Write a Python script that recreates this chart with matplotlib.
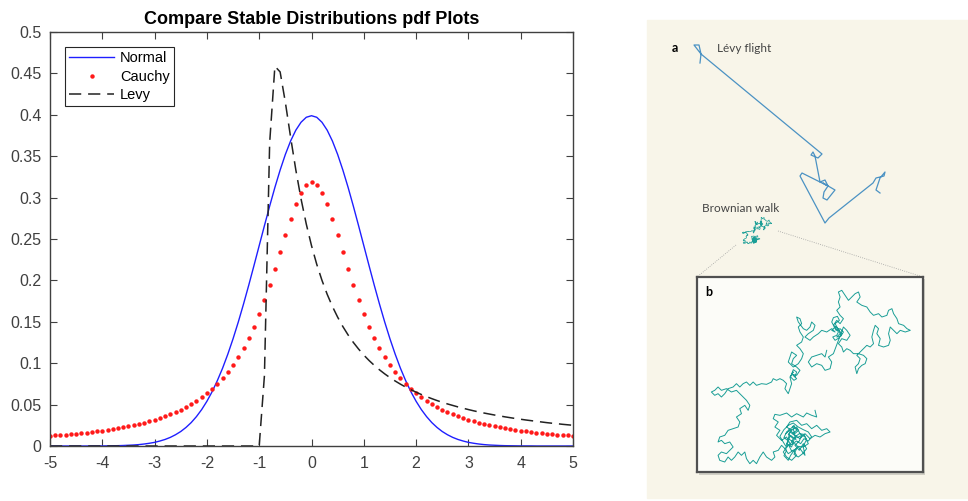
import numpy as np
import matplotlib.pyplot as plt
from matplotlib.patches import Rectangle

plt.rcParams['axes.unicode_minus'] = False

x_vals = np.linspace(-5, 5, 101)

# right half (x = 0 .. 5), curves are symmetric about 0
normal_half = [0.3989, 0.3970, 0.3910, 0.3814, 0.3683, 0.3521, 0.3332, 0.3123, 0.2897, 0.2661,
               0.2420, 0.2179, 0.1942, 0.1714, 0.1497, 0.1295, 0.1109, 0.0940, 0.0790, 0.0656,
               0.0540, 0.0440, 0.0355, 0.0283, 0.0224, 0.0175, 0.0136, 0.0104, 0.0079, 0.0060,
               0.0044, 0.0033, 0.0024, 0.0017, 0.0012, 0.0009, 0.0006, 0.0004, 0.0003, 0.0002,
               0.0001, 0.0001, 0.0001, 0.0, 0.0, 0.0, 0.0, 0.0, 0.0, 0.0, 0.0]
cauchy_half = [0.3183, 0.3152, 0.3061, 0.2920, 0.2744, 0.2546, 0.2341, 0.2136, 0.1941, 0.1759,
               0.1592, 0.1440, 0.1305, 0.1183, 0.1075, 0.0979, 0.0894, 0.0818, 0.0751, 0.0690,
               0.0637, 0.0588, 0.0545, 0.0506, 0.0471, 0.0439, 0.0410, 0.0384, 0.0360, 0.0338,
               0.0318, 0.0300, 0.0283, 0.0268, 0.0253, 0.0240, 0.0228, 0.0217, 0.0206, 0.0196,
               0.0187, 0.0179, 0.0171, 0.0163, 0.0156, 0.0150, 0.0144, 0.0138, 0.0132, 0.0127,
               0.0122]
# levy is zero up to x = -1, these are x = -0.9 .. 5
levy_tail = [0.0850, 0.3661, 0.4586, 0.4518, 0.4151, 0.3731, 0.3335, 0.2984, 0.2681, 0.2420,
             0.2195, 0.2001, 0.1832, 0.1685, 0.1556, 0.1442, 0.1341, 0.1251, 0.1171, 0.1098,
             0.1033, 0.0974, 0.0920, 0.0871, 0.0826, 0.0785, 0.0747, 0.0712, 0.0680, 0.0650,
             0.0622, 0.0596, 0.0572, 0.0549, 0.0528, 0.0508, 0.0490, 0.0472, 0.0456, 0.0440,
             0.0425, 0.0411, 0.0398, 0.0386, 0.0374, 0.0363, 0.0352, 0.0342, 0.0332, 0.0323,
             0.0314, 0.0306, 0.0298, 0.0290, 0.0282, 0.0275, 0.0269, 0.0262, 0.0256, 0.0250]

normal_vals = normal_half[::-1] + normal_half[1:]
cauchy_vals = cauchy_half[::-1] + cauchy_half[1:]
levy_vals = [0.0] * 41 + levy_tail

# ---- right illustration: traced paths
# levy flight, image pixel coords
levy_x = [700, 701, 694, 699, 701, 822, 818, 811, 813, 815, 820, 825, 828, 823, 835, 827,
          823, 824, 828, 822, 802, 800, 825, 829, 873, 876, 884, 885, 880, 876, 880]
levy_y = [63, 54, 45, 45, 54, 154, 158, 155, 152, 156, 182, 180, 186, 183, 190, 200,
          198, 192, 186, 183, 173, 176, 223, 218, 183, 178, 176, 172, 178, 190, 193]

# brownian walk, traced in inset units (x 172..848, y 140..725)
brownian_path = [
    (525, 540), (530, 560), (515, 555), (500, 548), (490, 560), (470, 550), (455, 560), (440, 548),
    (420, 555), (405, 552), (400, 565), (415, 575), (405, 590), (420, 600), (410, 615), (425, 630),
    (440, 620), (450, 640), (435, 655), (445, 670), (460, 660), (470, 675), (455, 690), (440, 680),
    (430, 665), (445, 645), (465, 640), (480, 655), (495, 675), (490, 650), (505, 640), (495, 620),
    (480, 610), (470, 590), (455, 600), (440, 590), (450, 575), (470, 570), (485, 585), (500, 580),
    (515, 595), (530, 585), (545, 600), (560, 595), (570, 605), (555, 610), (540, 620), (525, 615),
    (510, 625), (495, 610), (480, 625), (465, 615), (450, 605), (445, 625), (460, 635), (455, 650),
    (440, 640), (452, 615), (468, 628), (458, 588), (476, 600), (462, 612), (448, 596), (438, 610),
    (462, 585), (470, 600), (458, 610), (472, 622), (485, 615), (478, 632), (465, 645), (478, 660),
    (490, 640), (500, 655), (488, 670), (475, 680), (462, 672), (470, 655), (455, 662), (448, 648),
    (460, 625), (445, 612), (455, 598), (440, 605), (432, 622), (446, 632), (438, 648), (428, 632),
    (420, 618), (432, 598), (445, 585), (460, 578), (475, 590), (490, 598), (505, 605), (515, 620),
    (505, 632), (492, 625), (482, 640), (470, 632), (458, 640), (465, 620), (478, 610), (492, 612),
    (500, 628), (488, 650), (475, 648), (463, 660), (452, 675), (445, 690), (432, 676), (440, 660),
    (425, 645), (415, 660), (400, 665), (405, 680), (395, 690), (380, 680), (370, 665), (360, 680),
    (350, 700), (340, 690), (330, 700), (320, 685), (315, 665), (305, 675), (295, 665), (285, 680),
    (275, 690), (265, 680), (255, 695), (240, 690), (235, 675), (245, 665), (260, 670), (270, 660),
    (280, 650), (270, 635), (255, 640), (245, 630), (235, 635), (240, 620), (255, 615), (265, 600),
    (280, 595), (295, 590), (300, 575), (290, 560), (305, 550), (300, 535), (315, 525), (325, 540),
    (330, 525), (320, 510), (310, 500), (300, 490), (290, 480), (275, 485), (260, 475), (245, 480),
    (235, 470), (225, 480), (215, 485), (225, 495), (235, 490), (245, 500), (255, 490), (265, 475),
    (280, 470), (290, 460), (300, 470), (310, 460), (320, 455), (330, 465), (340, 455), (350, 465),
    (365, 460), (380, 462), (395, 455), (400, 445), (410, 450), (420, 445), (430, 450), (440, 460),
    (435, 475), (445, 490), (450, 475), (455, 460), (450, 440), (460, 425), (455, 430), (465, 440),
    (470, 425), (460, 418), (452, 440), (462, 450), (470, 445), (458, 432), (470, 435), (480, 420),
    (470, 410), (455, 400), (460, 385), (470, 375), (455, 365), (450, 380), (445, 395), (460, 410),
    (475, 400), (485, 385), (490, 370), (480, 355), (470, 345), (485, 335), (490, 320), (480, 305),
    (475, 290), (485, 280), (480, 265), (470, 260), (475, 275), (490, 295), (500, 300), (510, 290),
    (515, 275), (525, 285), (520, 300), (505, 310), (495, 320), (510, 330), (520, 320), (535, 310),
    (545, 300), (560, 305), (575, 295), (585, 305), (575, 300), (585, 290), (595, 305), (590, 315),
    (578, 320), (585, 330), (598, 322), (605, 310), (595, 298), (585, 280), (598, 270), (592, 258),
    (580, 262), (575, 275), (588, 300), (600, 295), (610, 305), (602, 318), (590, 320), (600, 310),
    (595, 295), (580, 285), (590, 270), (600, 280), (610, 265), (600, 255), (590, 240), (600, 230),
    (595, 215), (600, 200), (595, 185), (605, 180), (615, 195), (625, 210), (635, 200), (645, 190),
    (655, 185), (660, 200), (650, 215), (665, 225), (680, 230), (690, 245), (700, 255), (715, 250),
    (725, 260), (740, 255), (745, 240), (755, 235), (760, 250), (770, 265), (775, 280), (790, 285),
    (800, 295), (810, 300), (795, 305), (780, 300), (770, 310), (760, 300), (750, 290), (745, 310),
    (750, 330), (745, 345), (730, 350), (715, 345), (720, 325), (710, 310), (715, 295), (705, 285),
    (700, 300), (695, 320), (700, 340), (690, 350), (680, 345), (670, 355), (660, 365), (650, 375),
    (660, 385), (655, 400), (645, 410), (650, 430), (655, 415), (665, 405), (675, 400), (680, 385),
    (670, 375), (655, 370), (640, 370), (630, 360), (620, 355), (610, 365), (605, 350), (595, 340),
    (605, 325), (620, 330), (630, 315), (620, 300), (610, 290), (580, 370), (565, 380), (575, 395),
    (570, 415), (555, 420), (545, 405), (530, 400), (515, 410), (505, 395), (515, 380), (530, 375),
    (545, 370), (555, 380), (560, 360),
]
bw = np.array(brownian_path, dtype=float)

fig = plt.figure(figsize=(9.68, 5.01), dpi=100)

# ---------------- left: stable distributions
W, H = 968, 501
ax = fig.add_axes([50 / W, (H - 446) / H, 523 / W, 414 / H])
ax.plot(x_vals, normal_vals, color='#1f1fff', lw=1.0, label='Normal')
ax.plot(x_vals, cauchy_vals, ls='none', marker='o', ms=3.2, color='#ff1a1a',
        mec='none', label='Cauchy')
ax.plot(x_vals, levy_vals, color='#222222', lw=1.1, dashes=(8, 4.5), label='Levy')
ax.set_xlim(-5, 5)
ax.set_ylim(0, 0.5)
ax.set_xticks(np.arange(-5, 6, 1))
ax.set_yticks(np.arange(0, 0.51, 0.05))
ax.set_yticklabels([f'{v:g}' for v in np.round(np.arange(0, 0.51, 0.05), 2)])
ax.tick_params(direction='in', length=5, top=True, right=True, labelsize=11.5,
               colors='#404040', labelcolor='#404040')
ax.tick_params(axis='y', pad=6)
ax.tick_params(axis='x', pad=7)
for lab in ax.get_xticklabels() + ax.get_yticklabels():
    lab.set_fontfamily('Liberation Sans')
for s in ax.spines.values():
    s.set_color('#404040')
    s.set_linewidth(1.0)
ax.set_title('Compare Stable Distributions pdf Plots', fontsize=13, fontweight='bold',
             family='Liberation Sans', pad=6)
leg = ax.legend(loc='upper left', bbox_to_anchor=(0.028, 0.964), borderaxespad=0,
                fancybox=False, framealpha=1, edgecolor='#262626', handlelength=3.1,
                labelspacing=0.3, handletextpad=0.4, borderpad=0.3,
                prop={'family': 'Liberation Sans', 'size': 10.5})
leg.get_frame().set_linewidth(0.8)

# ---------------- right: levy flight vs brownian walk
axr = fig.add_axes([640 / W, 0, 328 / W, 1])
axr.set_xlim(640, 968)
axr.set_ylim(501, 0)
axr.axis('off')
axr.add_patch(Rectangle((647, 20), 321, 478, color='#f8f5e9', zorder=0))

axr.plot(levy_x, levy_y, color='#4b92c3', lw=0.9, zorder=2)
axr.text(675, 48, 'a', fontsize=9, fontweight='bold', family='Lato', ha='center', va='center')
axr.text(717, 48, 'Lévy flight', fontsize=8.5, family='Lato', color='#444444', va='center')
axr.text(702, 208, 'Brownian walk', fontsize=8.5, family='Lato', color='#444444', va='center')

# zoom lines
axr.plot([736, 697], [245, 277], color='#a0a0a0', lw=0.6, ls=':')
axr.plot([778, 923], [231, 277], color='#a0a0a0', lw=0.6, ls=':')

# inset shadow
axr.add_patch(Rectangle((699, 279), 226, 196, color='#b8b6ae', alpha=0.6, zorder=1, lw=0))

# small blob: same walk, scaled down
axs = fig.add_axes([742 / W, (H - 244) / H, 30 / W, 27 / H])
axs.plot(bw[:, 0], bw[:, 1], color='#1a9e96', lw=0.5)
axs.set_xlim(210, 815)
axs.set_ylim(705, 175)
axs.axis('off')

# inset b
axb = fig.add_axes([697 / W, (H - 472) / H, 226 / W, 195 / H])
axb.set_facecolor('#fcfcf8')
axb.plot(bw[:, 0], bw[:, 1], color='#1a9e96', lw=0.7)
axb.set_xlim(172, 848)
axb.set_ylim(725, 140)
axb.set_xticks([])
axb.set_yticks([])
for s in axb.spines.values():
    s.set_color('#505050')
    s.set_linewidth(1.6)
axb.text(208, 185, 'b', fontsize=9, fontweight='bold', family='Lato', ha='center', va='center')

fig.savefig('out.png', dpi=100)
